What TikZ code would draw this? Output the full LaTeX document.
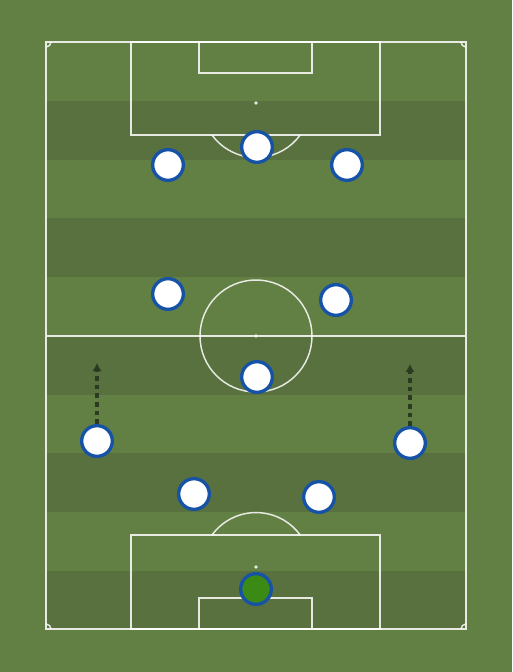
\documentclass[tikz,border=0pt]{standalone}
\usetikzlibrary{shadows,arrows.meta}
\definecolor{grassLight}{HTML}{627F44}
\definecolor{grassDark}{HTML}{58713F}
\definecolor{shirtBlue}{HTML}{1652A6}
\definecolor{keeperGreen}{HTML}{3B8A16}
\definecolor{runDark}{HTML}{2C3A22}
\tikzset{
  player/.style={circle, draw=shirtBlue, line width=2.5pt, fill=white,
    minimum size=23pt, inner sep=0pt,
    drop shadow={shadow xshift=0.6pt, shadow yshift=-0.8pt, opacity=0.3}},
  keeper/.style={player, fill=keeperGreen},
  run/.style={runDark, line width=2.3pt, dash pattern=on 3.5pt off 3pt,
    -{Latex[length=6pt, width=7pt]}}
}
\begin{document}
\begin{tikzpicture}[x=0.75pt, y=-0.75pt]
    % Grass and stripes
    \fill[grassLight] (0,0) rectangle (512,672);
    \useasboundingbox (0,0) rectangle (512,672);
    \foreach \y in {101,218.4,335.8,453.2,570.6}
      \fill[grassDark] (46,\y) rectangle (466,\y+58.7);

    % Pitch markings
    \begin{scope}[white, line width=1.1pt, opacity=0.85]
      \draw (46,42) rectangle (466,629);
      \draw (46,336) -- (466,336);
      \draw (256,336) circle (56);
      \fill (256,336) circle (1.8);
      % top end
      \draw (131,42) rectangle (380,135);
      \draw (199,42) rectangle (312,73);
      \fill (256,103) circle (1.8);
      \draw (212,135) arc[start angle=144, end angle=36, radius=54.5];
      % bottom end
      \draw (131,629) rectangle (380,535);
      \draw (199,629) rectangle (312,598);
      \fill (256,567) circle (1.8);
      \draw (212,535) arc[start angle=216, end angle=324, radius=54.5];
      % corners
      \draw (51,42) arc[start angle=0, end angle=90, radius=5];
      \draw (461,42) arc[start angle=180, end angle=90, radius=5];
      \draw (46,624) arc[start angle=270, end angle=360, radius=5];
      \draw (466,624) arc[start angle=270, end angle=180, radius=5];
    \end{scope}

    % Runs
    \coordinate (runL) at (97,363);
    \coordinate (runR) at (410,364);

    % Players
    \node[player] (fwL) at (168,165) {};
    \node[player] (fwC) at (257,147) {};
    \node[player] (fwR) at (347,165) {};
    \node[player] (cmL) at (168,294) {};
    \node[player] (cmR) at (336,300) {};
    \node[player] (dm) at (257,377) {};
    \node[player] (wbL) at (97,441) {};
    \node[player] (wbR) at (410,443) {};
    \node[player] (cbL) at (194,494) {};
    \node[player] (cbR) at (319,497) {};
    \node[keeper] (gk) at (256,589) {};

    \draw[run] (wbL) -- (runL);
    \draw[run] (wbR) -- (runR);
  \end{tikzpicture}
\end{document}
